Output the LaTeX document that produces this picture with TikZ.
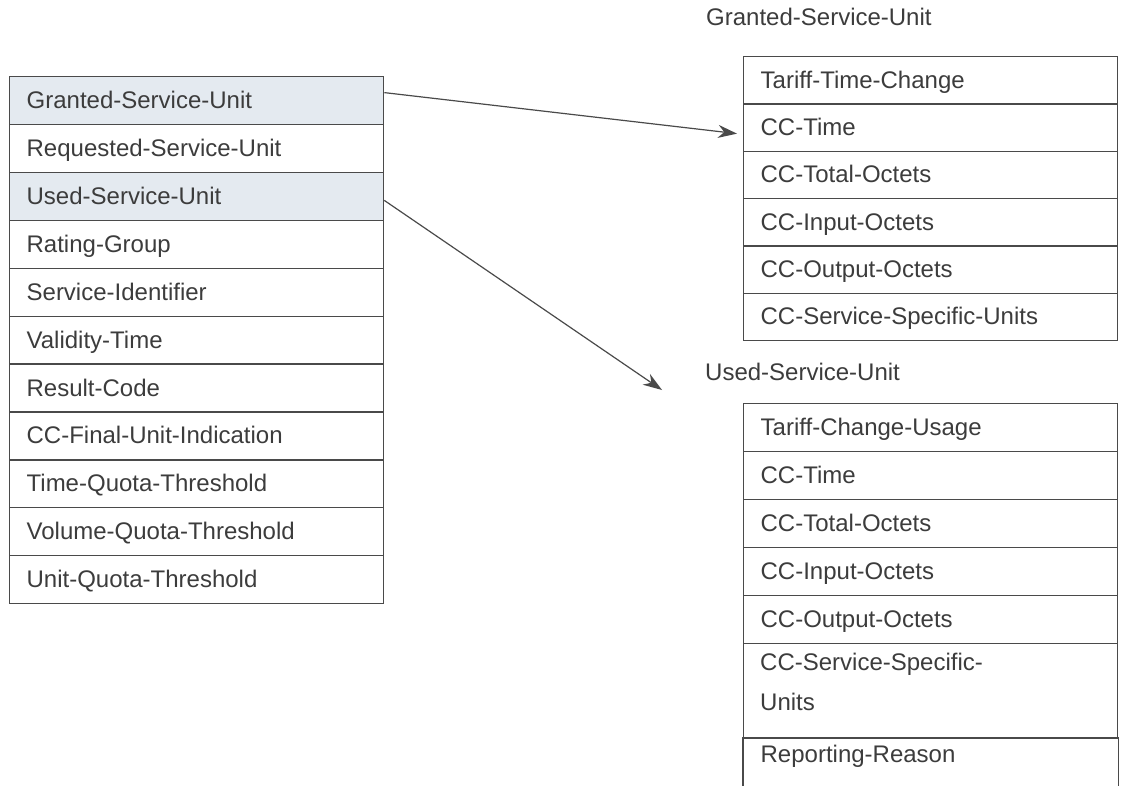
\documentclass[tikz,border=0pt]{standalone}
\usepackage{fontspec}
\setmainfont{Liberation Sans}
\usetikzlibrary{arrows.meta,calc}
\definecolor{linec}{HTML}{4A4A4A}
\definecolor{txt}{HTML}{3C3C3C}
\definecolor{hl}{HTML}{E4EAF0}
\begin{document}
\begin{tikzpicture}[x=1pt,y=-1pt,
  tblrow/.style={draw=linec, line width=1.3pt, rectangle, anchor=north west,
    minimum width=374pt, text width=340pt, inner xsep=17pt, inner ysep=0pt, align=left,
    text height=19pt, text depth=3pt,
    font=\fontsize{24}{40}\selectfont, text=txt},
  leftrow/.style={tblrow, minimum height=47.9pt},
  grantrow/.style={tblrow, minimum height=47.33pt},
  usedrow/.style={tblrow, minimum height=48pt},
  ttl/.style={anchor=west, inner sep=0pt, font=\fontsize{24}{28}\selectfont, text=txt},
  conn/.style={draw=linec, line width=1.2pt, -{Stealth[length=19pt,width=13pt]}}]
\useasboundingbox (0,0) rectangle (1124,785);
% left table
\node[leftrow, fill=hl] (l1) at (9,76) {Granted-Service-Unit};
\node[leftrow] (l2) at (9,123.9) {Requested-Service-Unit};
\node[leftrow, fill=hl] (l3) at (9,171.8) {Used-Service-Unit};
\node[leftrow] (l4) at (9,219.7) {Rating-Group};
\node[leftrow] (l5) at (9,267.6) {Service-Identifier};
\node[leftrow] (l6) at (9,315.5) {Validity-Time};
\node[leftrow] (l7) at (9,363.4) {Result-Code};
\node[leftrow] (l8) at (9,411.3) {CC-Final-Unit-Indication};
\node[leftrow] (l9) at (9,459.2) {Time-Quota-Threshold};
\node[leftrow] (l10) at (9,507.1) {Volume-Quota-Threshold};
\node[leftrow] (l11) at (9,555) {Unit-Quota-Threshold};
% granted table
\node[ttl] (gt) at (706,17) {Granted-Service-Unit};
\node[grantrow] (g1) at (743,56) {Tariff-Time-Change};
\node[grantrow] (g2) at (743,103.33) {CC-Time};
\node[grantrow] (g3) at (743,150.67) {CC-Total-Octets};
\node[grantrow] (g4) at (743,198) {CC-Input-Octets};
\node[grantrow] (g5) at (743,245.33) {CC-Output-Octets};
\node[grantrow] (g6) at (743,292.67) {CC-Service-Specific-Units};
% used table
\node[ttl] (ut) at (705,372) {Used-Service-Unit};
\node[usedrow] (u1) at (743,403) {Tariff-Change-Usage};
\node[usedrow] (u2) at (743,451) {CC-Time};
\node[usedrow] (u3) at (743,499) {CC-Total-Octets};
\node[usedrow] (u4) at (743,547) {CC-Input-Octets};
\node[usedrow] (u5) at (743,595) {CC-Output-Octets};
\node[usedrow, minimum height=95pt,
  label={[name=u6t, anchor=north west, inner sep=0pt, xshift=17pt, yshift=-10pt,
    align=left, font=\fontsize{24}{40}\selectfont, text=txt]north west:CC-Service-Specific-\\Units}]
  (u6) at (743,643) {};
\node[usedrow, draw=none, minimum height=47pt, text depth=19pt] (u7) at (743,738) {Reporting-Reason};
\draw[draw=linec, line width=1.3pt] (u7.south west) -- (u7.north west) -- (u7.north east) -- (u7.south east);
% connectors
\draw[conn] ($(l1.east)+(0,-8)$) -- ($(g2.west)+(-6,6)$);
\draw[conn] ($(l3.east)+(0,4)$) -- ($(ut.west)+(-43,18)$);
\end{tikzpicture}
\end{document}
